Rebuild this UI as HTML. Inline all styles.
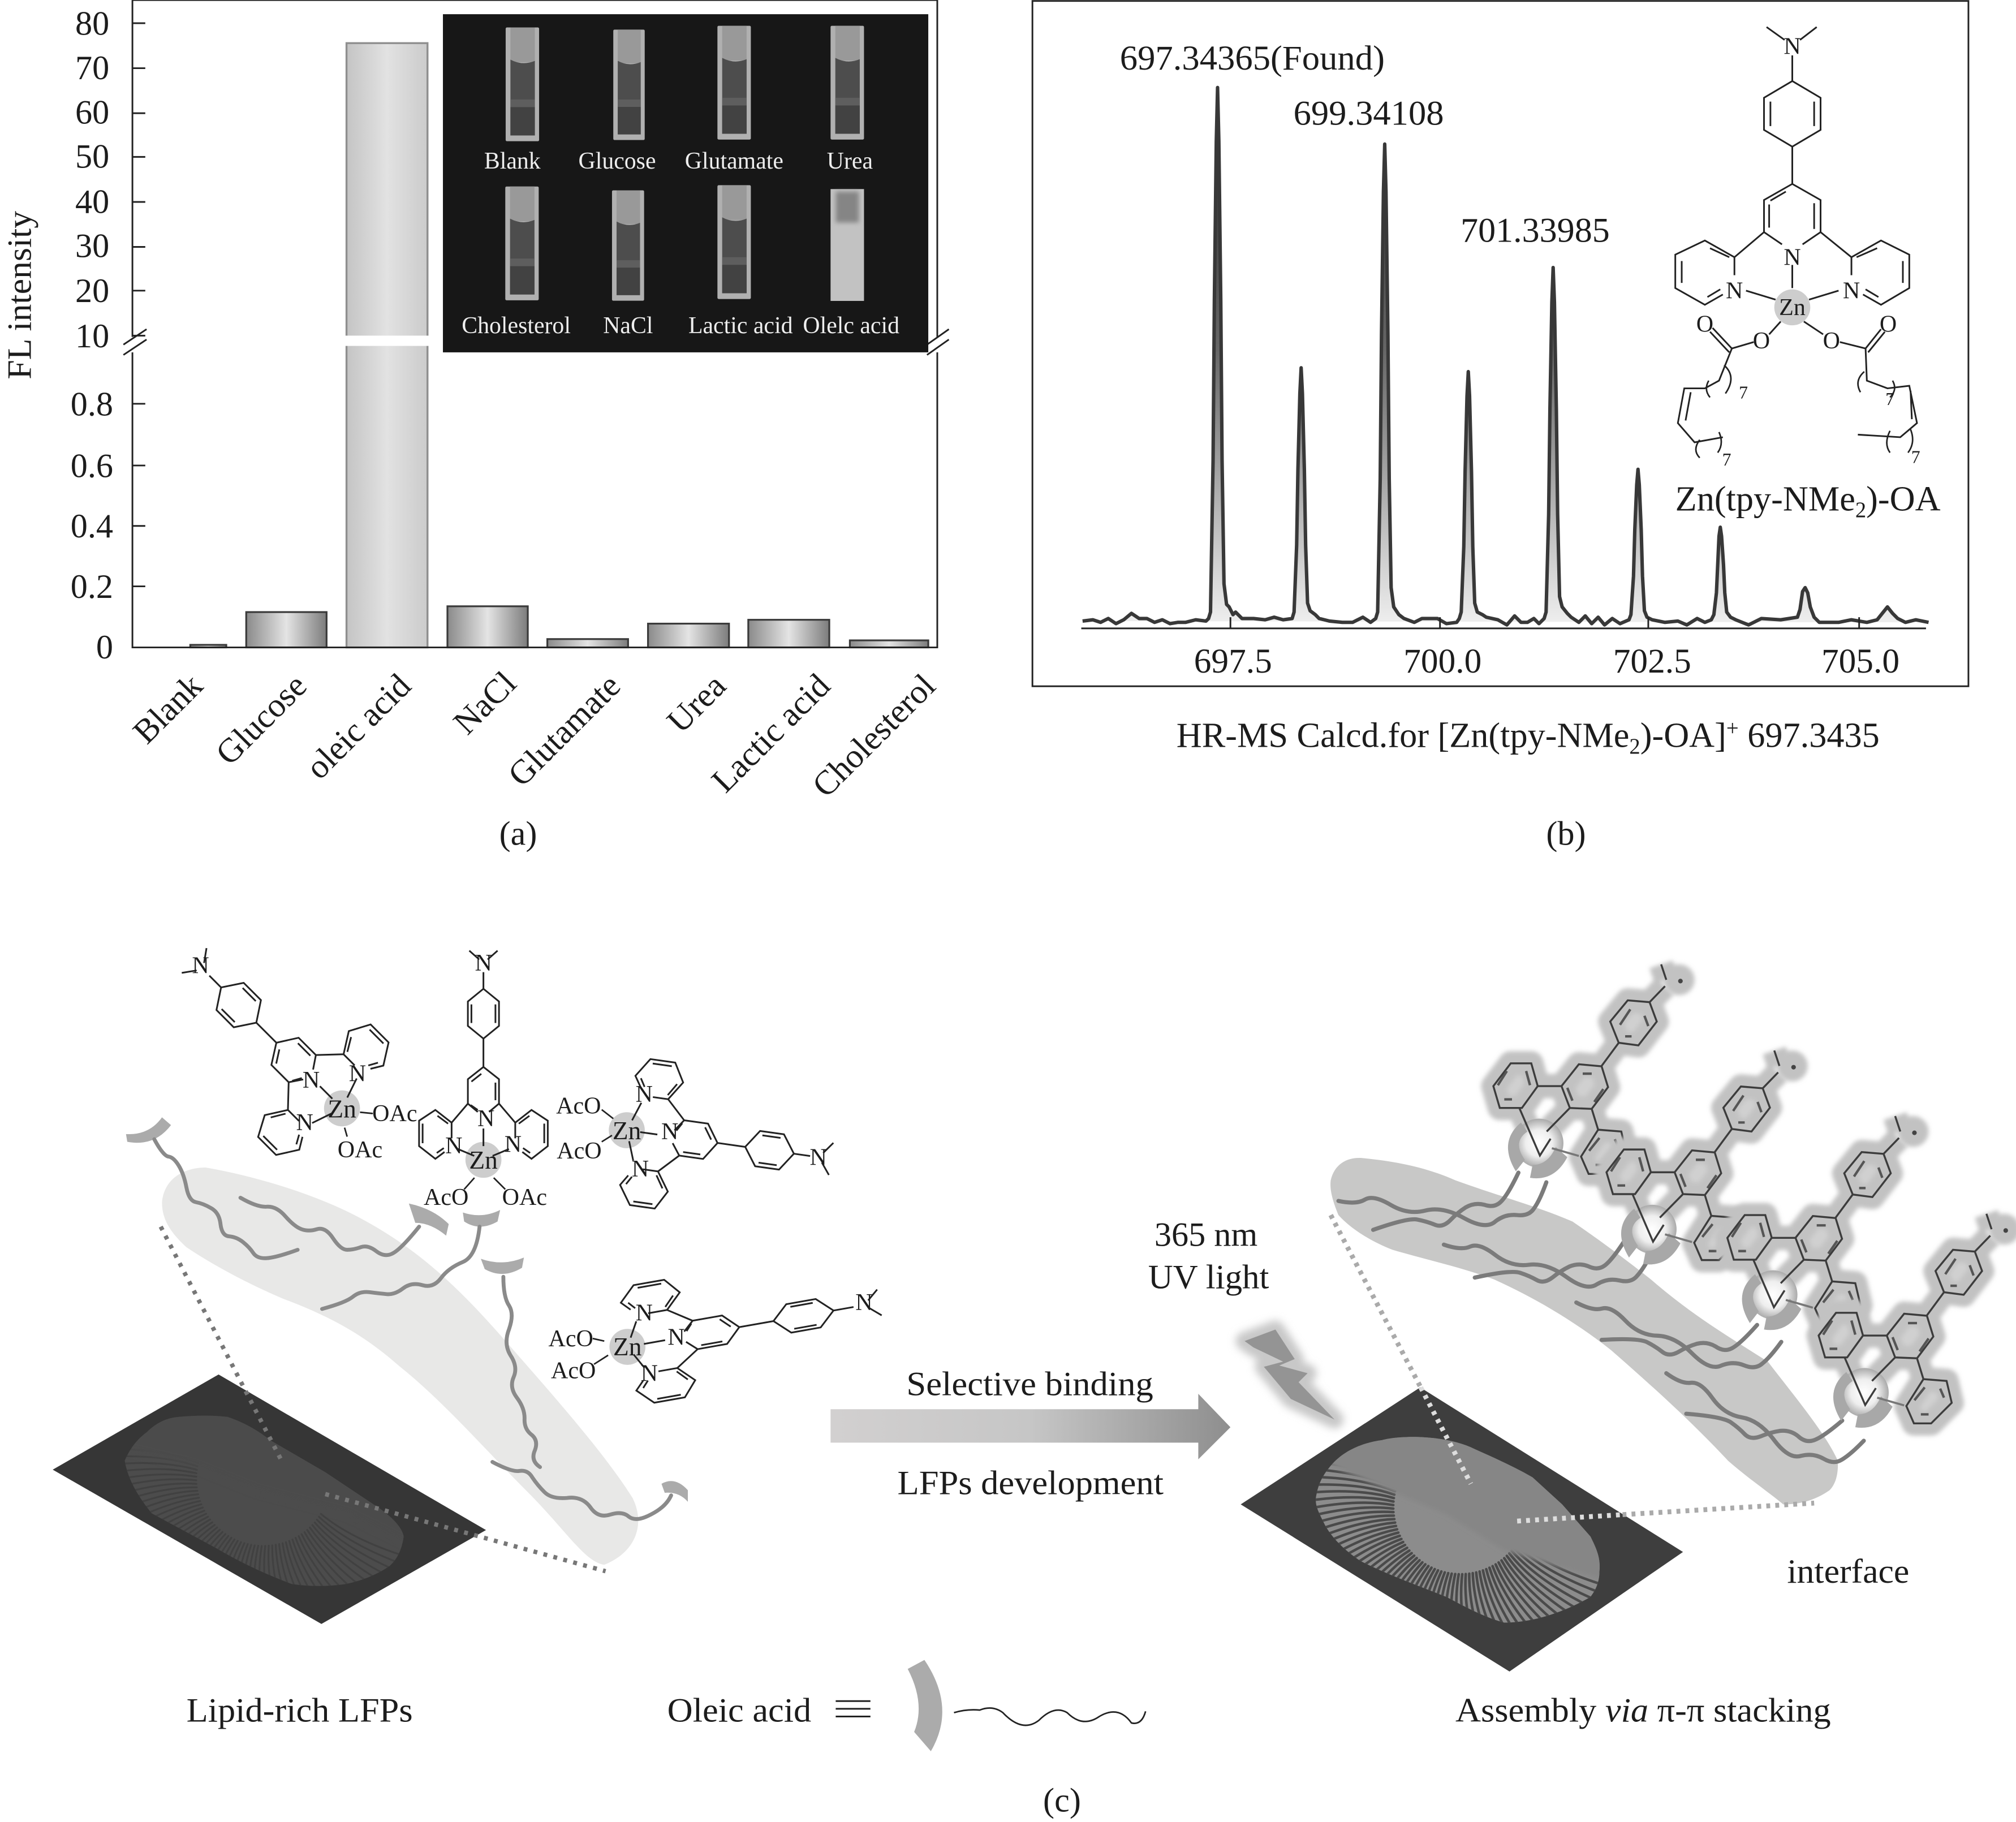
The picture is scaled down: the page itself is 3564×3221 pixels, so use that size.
<!DOCTYPE html>
<html><head><meta charset="utf-8"><title>Zn(tpy-NMe2)-OA figure</title>
<style>
html,body{margin:0;padding:0;background:#fff}
svg{display:block}
text{font-family:"Liberation Serif","DejaVu Serif",serif;fill:#1c1c1c}
.t{font-size:26.5px}
.w{font-size:18.4px;fill:#eee;text-anchor:middle}
.n{font-size:18.5px;text-anchor:middle}
.b{fill:none;stroke:#222}
.wm{fill:none;stroke:#8a8a8a;stroke-width:3;stroke-linejoin:round;stroke-linecap:round}
.wr{fill:none;stroke:#7b7b7b;stroke-width:3.2;stroke-linejoin:round;stroke-linecap:round}
</style></head><body>
<svg xmlns="http://www.w3.org/2000/svg" width="3564" height="3221" viewBox="0 0 1568 1417">
<defs>
<linearGradient id="gb" x1="0" x2="1" y1="0" y2="0"><stop offset="0" stop-color="#8a8a8a"/><stop offset=".5" stop-color="#e4e4e4"/><stop offset="1" stop-color="#7c7c7c"/></linearGradient>
<linearGradient id="go" x1="0" x2="1" y1="0" y2="0"><stop offset="0" stop-color="#c4c4c4"/><stop offset=".5" stop-color="#e2e2e2"/><stop offset="1" stop-color="#cbcbcb"/></linearGradient>
<linearGradient id="gp" gradientUnits="userSpaceOnUse" x1="0" x2="0" y1="60" y2="484"><stop offset="0" stop-color="#222"/><stop offset=".5" stop-color="#666"/><stop offset="1" stop-color="#eee"/></linearGradient>
<linearGradient id="ga" x1="0" x2="1" y1="0" y2="0"><stop offset="0" stop-color="#d2d0d0"/><stop offset=".5" stop-color="#c6c6c6"/><stop offset="1" stop-color="#8e8e8e"/></linearGradient>
<radialGradient id="gz"><stop offset="0" stop-color="#fff"/><stop offset=".55" stop-color="#eee"/><stop offset="1" stop-color="#aaa"/></radialGradient>
<filter id="bl" x="-20%" y="-20%" width="140%" height="140%"><feGaussianBlur stdDeviation="1.8"/></filter>
<filter id="bl3" x="-30%" y="-30%" width="160%" height="160%"><feGaussianBlur stdDeviation="3"/></filter>
<g id="cuv">
<rect x="0" y="0" width="26" height="88.5" rx="1" fill="#b0b0b0"/>
<rect x="3.7" y="0" width="19" height="27" fill="#999"/>
<path d="M3.7,25 Q13,30 22.7,26 V84 H3.7Z" fill="#4d4d4d"/>
<rect x="3.7" y="56" width="19" height="6" fill="#5e5e5e"/>
<rect x="3.7" y="62" width="19" height="22" fill="#424242"/>
</g>
<path id="tpy" vector-effect="non-scaling-stroke" fill="none" stroke="#222" stroke-width="3" d="M-8,-49 L-22,-57.5 L-22,-82.5 L0,-95 L22,-82.5 L22,-57.5 L8,-49 M-17,-80 L-3,-88 M17,-79 L17,-61 M-18,-56 L-8,-51 M-22,-57.5 L-45,-38 L-68,-51 L-91,-40 L-91,-14 L-68,-1 L-55,-8 M-45,-38 L-45,-22 M-50,-37 L-65,-45 M-86,-37 L-86,-17 M-66,-7 L-56,-12 M22,-57.5 L45,-38 L68,-51 L91,-40 L91,-14 L68,-1 L55,-8 M45,-38 L45,-22 M50,-37 L65,-45 M86,-37 L86,-17 M66,-7 L56,-12 M0,-124 L0,-95 M0,-124 L22,-137 L22,-162 L0,-175 L-22,-162 L-22,-137 Z M17,-140 L17,-159 M-17,-140 L-17,-159 M0,-175 L0,-192 M-6,-205 L-20,-214 M6,-205 L20,-214 M0,-32 L0,-14 M-36,-11 L-13,-4 M36,-11 L13,-4"/>
<path id="mol" d="M1266,778 L1283,779.4 L1288.6,794.5 L1274.3,813 L1259,811 L1252.4,794.5Z M1228,827.7 L1245.7,829.3 L1250.7,845.5 L1238,862.4 L1221,861.7 L1214.5,844.7Z M1175,827 L1191,827 L1196,844.7 L1183.7,861.7 L1166.5,861.7 L1161.5,844.7Z M1243,878.6 L1261,880 L1265,897 L1249,913 L1235.6,913 L1229.7,899.5Z M1259,811 L1245.7,829 M1214.5,844.7 L1196,844.7 M1238,862.4 L1243,878.6 M1283,779.4 L1295,767 M1292,750 L1296,762 M1181.7,861.7 L1197.7,898.7 L1206,885.6 M1221,861.7 L1203,880"/>
<path id="dbl" d="M1260,797 L1268,785 M1279,790 L1282,798 M1264,806 L1269,806 M1231,835 L1238,835 M1240,857 L1247,847 M1219,846 L1223,856 M1172,833 L1165,844 M1187,833 L1190,844 M1170,855 L1176,855 M1236,895 L1244,885 M1256,886 L1259,893 M1241,906 L1247,906"/>
<g id="stk">
<use href="#mol" fill="#d0d0d0" stroke="#c2c2c2" stroke-width="19" stroke-linejoin="round" filter="url(#bl)"/>
<circle cx="1306" cy="762" r="12" fill="#c2c2c2" filter="url(#bl)"/>
<circle cx="1197" cy="889" r="19" fill="url(#gz)"/>
<path d="M1183,873 Q1165,888 1179,911 L1186,902 Q1176,888 1188,880Z M1190,916 Q1209,919 1219,900 L1210,892 Q1204,906 1192,906Z" fill="#a8a8a8"/>
<use href="#mol" fill="none" stroke="#3c3c3c" stroke-width="1.5"/>
<use href="#dbl" fill="none" stroke="#555" stroke-width="1.9"/>
<circle cx="1307" cy="763" r="1.8" fill="#444"/>
<path d="M1207,893 L1228,899" stroke="#777" stroke-width="1.6"/>
</g>
<path id="ch" class="wr" d="M1041,934 Q1055,937 1061.5,933 Q1068,929 1081.5,937 Q1095,945 1108.5,941.5 Q1122,938 1139,947.5 Q1155.6,956.6 1163,950 Q1170.7,944 1180,945 Q1189,946 1193,940 Q1197.7,933.4 1202.7,919.5 M1068,956.5 Q1095,947 1102.5,948.5 Q1110,950 1116,952.5 Q1122,955 1128,949 Q1133.7,943 1140,939 Q1147,935 1154.5,937 Q1162,939.6 1167,935 Q1172.4,930 1181,912"/>
<path id="rd" fill="none" d="M1188,1178 Q1226,1188 1286,1176"/>
<g id="ridges" fill="none" stroke-linecap="round">
<use href="#rd" transform="rotate(25 1136 1172)"/><use href="#rd" transform="rotate(28 1136 1172)"/><use href="#rd" transform="rotate(31 1136 1172)"/><use href="#rd" transform="rotate(34 1136 1172)"/><use href="#rd" transform="rotate(37 1136 1172)"/><use href="#rd" transform="rotate(40 1136 1172)"/><use href="#rd" transform="rotate(43 1136 1172)"/><use href="#rd" transform="rotate(46 1136 1172)"/><use href="#rd" transform="rotate(49 1136 1172)"/><use href="#rd" transform="rotate(52 1136 1172)"/><use href="#rd" transform="rotate(55 1136 1172)"/><use href="#rd" transform="rotate(58 1136 1172)"/><use href="#rd" transform="rotate(61 1136 1172)"/><use href="#rd" transform="rotate(64 1136 1172)"/><use href="#rd" transform="rotate(67 1136 1172)"/><use href="#rd" transform="rotate(70 1136 1172)"/><use href="#rd" transform="rotate(73 1136 1172)"/><use href="#rd" transform="rotate(76 1136 1172)"/><use href="#rd" transform="rotate(79 1136 1172)"/><use href="#rd" transform="rotate(82 1136 1172)"/><use href="#rd" transform="rotate(85 1136 1172)"/><use href="#rd" transform="rotate(88 1136 1172)"/><use href="#rd" transform="rotate(91 1136 1172)"/><use href="#rd" transform="rotate(94 1136 1172)"/><use href="#rd" transform="rotate(97 1136 1172)"/><use href="#rd" transform="rotate(100 1136 1172)"/><use href="#rd" transform="rotate(103 1136 1172)"/><use href="#rd" transform="rotate(106 1136 1172)"/><use href="#rd" transform="rotate(109 1136 1172)"/><use href="#rd" transform="rotate(112 1136 1172)"/><use href="#rd" transform="rotate(115 1136 1172)"/><use href="#rd" transform="rotate(118 1136 1172)"/><use href="#rd" transform="rotate(121 1136 1172)"/><use href="#rd" transform="rotate(124 1136 1172)"/><use href="#rd" transform="rotate(127 1136 1172)"/><use href="#rd" transform="rotate(130 1136 1172)"/><use href="#rd" transform="rotate(133 1136 1172)"/><use href="#rd" transform="rotate(136 1136 1172)"/><use href="#rd" transform="rotate(139 1136 1172)"/><use href="#rd" transform="rotate(142 1136 1172)"/><use href="#rd" transform="rotate(145 1136 1172)"/><use href="#rd" transform="rotate(148 1136 1172)"/><use href="#rd" transform="rotate(151 1136 1172)"/><use href="#rd" transform="rotate(154 1136 1172)"/><use href="#rd" transform="rotate(157 1136 1172)"/><use href="#rd" transform="rotate(160 1136 1172)"/><use href="#rd" transform="rotate(163 1136 1172)"/><use href="#rd" transform="rotate(166 1136 1172)"/><use href="#rd" transform="rotate(169 1136 1172)"/><use href="#rd" transform="rotate(172 1136 1172)"/><use href="#rd" transform="rotate(175 1136 1172)"/><use href="#rd" transform="rotate(178 1136 1172)"/><use href="#rd" transform="rotate(181 1136 1172)"/><use href="#rd" transform="rotate(184 1136 1172)"/><use href="#rd" transform="rotate(187 1136 1172)"/><use href="#rd" transform="rotate(190 1136 1172)"/><use href="#rd" transform="rotate(193 1136 1172)"/><use href="#rd" transform="rotate(196 1136 1172)"/><use href="#rd" transform="rotate(199 1136 1172)"/><use href="#rd" transform="rotate(202 1136 1172)"/><use href="#rd" transform="rotate(205 1136 1172)"/><use href="#rd" transform="rotate(208 1136 1172)"/><use href="#rd" transform="rotate(211 1136 1172)"/><use href="#rd" transform="rotate(214 1136 1172)"/><use href="#rd" transform="rotate(217 1136 1172)"/><use href="#rd" transform="rotate(220 1136 1172)"/><use href="#rd" transform="rotate(223 1136 1172)"/>
</g>
<clipPath id="fpr"><path d="M1035,1140 C1045,1128 1060,1122 1075,1120 C1090,1116 1125,1116 1147,1127 C1165,1135 1180,1142 1192,1149 L1215,1170 L1237,1195 C1242,1205 1245,1212 1244,1222 C1244,1232 1240,1238 1237,1242 C1220,1252 1195,1262 1170,1262 C1155,1258 1140,1250 1125,1242 C1100,1232 1080,1225 1058,1214 C1045,1205 1037,1197 1031,1187 C1025,1175 1022,1170 1024,1162 C1026,1152 1030,1146 1035,1140Z"/></clipPath>
<clipPath id="fpl"><path d="M97,1136 Q103,1122 114,1114 Q125,1103 139,1102 Q160,1100 177,1102 Q195,1108 210,1120 L253,1145 L295,1173 Q312,1185 314,1195 Q312,1210 303,1218 Q288,1228 269,1232 Q248,1235 227,1232 Q195,1220 168,1204 L118,1177 Q100,1155 97,1136Z"/></clipPath>
</defs>
<rect width="1568" height="1417" fill="#fff"/>

<!-- PANEL A -->
<g fill="url(#gb)" stroke="#3a3a3a" stroke-width="1.4">
<rect x="148" y="501.5" width="28" height="2"/>
<rect x="191.5" y="476" width="62.5" height="27.5"/>
<rect x="348" y="471.5" width="62.5" height="32"/>
<rect x="425.7" y="497" width="62.8" height="6.5"/>
<rect x="504" y="485" width="63" height="18.5"/>
<rect x="582" y="482" width="63" height="21.5"/>
<rect x="661" y="498" width="61" height="5.5"/>
</g>
<rect x="269.5" y="33.5" width="63" height="470" fill="url(#go)" stroke="#8f8f8f" stroke-width="1.5"/>
<rect x="266" y="261" width="70" height="8" fill="#fff"/>
<path class="b" stroke-width="1.3" d="M103,0 H729 V262 M729,274 V503.5 H103 V274 M103,262 V0"/>
<path class="b" stroke-width="1.3" d="M103,18 h10 M103,53 h10 M103,88 h10 M103,122 h10 M103,157 h10 M103,192 h10 M103,226 h10 M103,261 h10 M103,314 h10 M103,362 h10 M103,409 h10 M103,456 h10 M96,268 L114,256 M96,276 L114,264 M721,268 L738,256 M721,276 L738,264"/>
<g class="t" text-anchor="end">
<text x="85" y="27">80</text><text x="85" y="61.5">70</text><text x="85" y="96">60</text><text x="85" y="130.5">50</text><text x="85" y="165.5">40</text><text x="85" y="200">30</text><text x="85" y="235">20</text><text x="85" y="270">10</text>
<text x="88" y="323">0.8</text><text x="88" y="371">0.6</text><text x="88" y="418">0.4</text><text x="88" y="465">0.2</text><text x="88" y="512">0</text>
</g>
<text class="t" transform="translate(24,295) rotate(-90)" textLength="131" lengthAdjust="spacingAndGlyphs">FL intensity</text>
<g class="t" text-anchor="end">
<text transform="translate(159,535) rotate(-45)">Blank</text>
<text transform="translate(240,535) rotate(-45)">Glucose</text>
<text transform="translate(321,535) rotate(-45)">oleic acid</text>
<text transform="translate(403,533) rotate(-45)">NaCl</text>
<text transform="translate(484,535) rotate(-45)">Glutamate</text>
<text transform="translate(566,535) rotate(-45)">Urea</text>
<text transform="translate(647,535) rotate(-45)">Lactic acid</text>
<text transform="translate(729,535) rotate(-45)">Cholesterol</text>
</g>
<text class="t" x="403" y="657" text-anchor="middle">(a)</text>

<rect x="344.5" y="11" width="377.5" height="263" fill="#171717"/>
<use href="#cuv" transform="translate(393.3,21.3)"/>
<use href="#cuv" transform="translate(477,23) scale(.94,.97)"/>
<use href="#cuv" transform="translate(558,20)"/>
<use href="#cuv" transform="translate(646,20)"/>
<use href="#cuv" transform="translate(393,145)"/>
<use href="#cuv" transform="translate(476,148) scale(.96,.97)"/>
<use href="#cuv" transform="translate(558,144)"/>
<rect x="646" y="147" width="26" height="87" fill="#c2c2c2"/>
<rect x="650" y="149" width="18" height="24" fill="#858585" filter="url(#bl)"/>
<text class="w" x="398.5" y="131">Blank</text><text class="w" x="480" y="131">Glucose</text><text class="w" x="571" y="131">Glutamate</text><text class="w" x="661" y="131">Urea</text>
<text class="w" x="401.5" y="259">Cholesterol</text><text class="w" x="488.5" y="259">NaCl</text><text class="w" x="576" y="259">Lactic acid</text><text class="w" x="662" y="259">Olelc acid</text>

<!-- PANEL B -->
<rect x="803" y="0.7" width="728" height="533" fill="#fff" stroke="#222" stroke-width="1.3"/>
<path fill="url(#gp)" stroke="#383838" stroke-width="2.7" stroke-linejoin="round" d="M842,483 L850,482 L856,484 L862,481 L868,485 L874,482 L880,477 L886,481 L892,481 L898,484 L904,482 L910,485 L916,484 L922,484 L930,482 L938,483 L940,481 L941.5,476 L943.5,358 L944.5,234 L946,110 L947,68 L948,110 L949.5,234 L950.5,358 L952,454 L954,470 L956,472 L959,478 L961,476 L966,481 L975,481 L984,482 L991,480 L998,482 L1005,481 L1006.5,476 L1008.5,424 L1009.5,365 L1011,306 L1012,286 L1013,306 L1014.5,365 L1015.5,424 L1017,469 L1019,475 L1023,478 L1026,481 L1034,483 L1044,484 L1052,484 L1060,480 L1066,484 L1070,481 L1071.5,476 L1073.5,372 L1074.5,260 L1076,149 L1077,112 L1078,149 L1079.5,260 L1080.5,372 L1082,457 L1084,472 L1088,478 L1092,481 L1100,484 L1106,481 L1118,481 L1125,485 L1133,484 L1135,481 L1136.5,476 L1138.5,425 L1139.5,367 L1141,308 L1142,289 L1143,308 L1144.5,367 L1145.5,425 L1147,469 L1149,476 L1153,478 L1156,480 L1165,482 L1172,486 L1178,479 L1183,484 L1188,484 L1193,481 L1197,485 L1201,481 L1202.5,476 L1204.5,400 L1205.5,318 L1207,235 L1208,208 L1209,235 L1210.5,318 L1211.5,400 L1213,464 L1215,472 L1219,477 L1222,480 L1228,484 L1233,479 L1238,485 L1243,480 L1248,486 L1254,481 L1260,485 L1267,482 L1268.5,478 L1270.5,448 L1271.5,412 L1273,377 L1274,365 L1275,377 L1276.5,412 L1277.5,448 L1279,475 L1281,480 L1285,482 L1295,484 L1305,483 L1312,486 L1320,481 L1326,484 L1331,482 L1333,478 L1335,461 L1336,439 L1337,417 L1338,410 L1339,417 L1340.5,439 L1341.5,461 L1343,476 L1346,480 L1350,482 L1360,486 L1370,481 L1385,482 L1398,480 L1400,474 L1402,460 L1404,457 L1406,461 L1408,472 L1411,480 L1415,484 L1430,484 L1440,482 L1452,484 L1460,482 L1464,477 L1468,472 L1472,477 L1476,481 L1482,484 L1490,482 L1500,484"/>
<path class="b" stroke-width="1.3" d="M841,488.7 H1498 M957,480 V488 M1120,480 V488 M1282,480 V488 M1446,480 V488"/>
<g class="t" text-anchor="middle" style="font-size:27px">
<text x="959" y="523">697.5</text><text x="1122" y="523">700.0</text><text x="1285" y="523">702.5</text><text x="1447" y="523">705.0</text>
</g>
<text class="t" style="font-size:27px" x="871" y="54" textLength="206" lengthAdjust="spacingAndGlyphs">697.34365(Found)</text>
<text class="t" style="font-size:27px" x="1006" y="97" textLength="117" lengthAdjust="spacingAndGlyphs">699.34108</text>
<text class="t" style="font-size:27px" x="1136" y="188" textLength="116" lengthAdjust="spacingAndGlyphs">701.33985</text>
<path class="b" stroke-width="1.3" d="M1374,21 L1388,31 M1413,21 L1400,31 M1394,43 L1394,63 L1416,76 L1416,101 L1394,114 L1372,101 L1372,76 L1394,63 M1411,79 L1411,98 M1377,79 L1377,98 M1394,114 L1394,143 L1416,155.5 L1416,180.5 L1402,190 M1386,190 L1372,180.5 L1372,155.5 L1394,143 M1376,159 L1376,177 M1389,149 L1377,156 M1411,158 L1411,178 M1372,180.5 L1349,200 L1326,187 L1303,198 L1303,224 L1326,237 L1340,229 M1349,200 L1349,214 M1345,200 L1330,193 M1308,203 L1308,220 M1328,231 L1338,225 M1416,180.5 L1440,200 L1463,187 L1485,198 L1485,224 L1463,237 L1449,229 M1440,200 L1440,214 M1444,200 L1460,193 M1480,203 L1480,220 M1461,231 L1451,225 M1394,206 L1394,224 M1358,226 L1381,233 M1430,226 L1407,233 M1385,250 L1376,260 M1403,250 L1418,260 M1364,266 L1347,271 L1332,255 M1345,274 L1330,258 M1431,266 L1451,271 L1463,256 M1453,274 L1466,258 M1347,271 L1337,296 L1326,302 L1310,302 L1305,329 L1318,344 L1340,340 M1315,305 L1311,327 M1451,271 L1452,296 L1468,302 L1485,300 L1491,329 L1478,340 L1445,338 M1486,304 L1487,326"/>
<path class="b" stroke-width="1.2" d="M1341,284 Q1351,293 1342,306 M1329,296 Q1325,303 1330,309 M1322,342 Q1316,350 1322,356 M1337,336 Q1341,345 1336,352 M1450,289 Q1442,296 1447,305 M1472,296 Q1476,303 1470,309 M1470,335 Q1465,345 1470,352 M1486,334 Q1490,344 1484,352"/>
<circle cx="1394" cy="239" r="14" fill="#cdcdcd"/>
<text class="n" x="1394" y="206">N</text><text class="n" x="1349" y="232">N</text><text class="n" x="1440" y="232">N</text><text class="n" x="1394" y="42">N</text><text class="n" x="1394" y="245" style="font-size:18.5px">Zn</text><text class="n" x="1370" y="271">O</text><text class="n" x="1424.5" y="271">O</text><text class="n" x="1326" y="258">O</text><text class="n" x="1468.6" y="258">O</text><text class="n" x="1356" y="310" style="font-size:14px">7</text><text class="n" x="1343" y="362" style="font-size:14px">7</text><text class="n" x="1470" y="315" style="font-size:14px">7</text><text class="n" x="1490" y="360" style="font-size:14px">7</text>
<text class="t" x="1303" y="397" style="font-size:27.4px">Zn(tpy-NMe<tspan dy="5" style="font-size:17px">2</tspan><tspan dy="-5">)-OA</tspan></text>
<text class="t" x="915" y="581" style="font-size:27.4px">HR-MS Calcd.for [Zn(tpy-NMe<tspan dy="5" style="font-size:17px">2</tspan><tspan dy="-5">)-OA]</tspan><tspan dy="-9" style="font-size:17px">+</tspan><tspan dy="9"> 697.3435</tspan></text>
<text class="t" x="1218" y="657" text-anchor="middle">(b)</text>

<!-- PANEL C LEFT -->
<path fill="#e8e8e7" d="M126,935 C128,915 145,908 160,908 C200,915 250,930 285,950 C330,975 360,1005 395,1045 C430,1085 470,1130 492,1165 C502,1185 495,1207 470,1217 C455,1215 440,1190 410,1160 C375,1125 345,1090 310,1062 C285,1040 260,1025 220,1010 C185,995 160,980 145,970 C132,958 126,948 126,935Z"/>
<path fill="#363636" d="M170,1069 L378,1190 L250,1263 L41,1143Z"/>
<g clip-path="url(#fpl)">
<rect x="90" y="1095" width="230" height="145" fill="#4c4c4c"/>
<use href="#ridges" stroke="#414141" stroke-width="1.4" transform="translate(-931,-22)"/>
<path d="M85,1090 H325 V1205 L270,1178 L200,1160 L150,1140 L85,1125Z" fill="#4c4c4c" filter="url(#bl3)"/>
</g>
<g fill="none" stroke="#777" stroke-width="3.4" stroke-dasharray="3 5">
<path d="M125,954 L219,1136"/><path d="M253,1162 L471,1222"/>
</g>
<g fill="#ababab">
<path d="M98,882 Q116,883 126,869 L133,875 Q120,892 99,888Z"/>
<path d="M318,936 Q337,940 349,952 L347,961 Q335,951 323,951Z"/>
<path d="M360,943 Q375,948 389,941 L387,950 Q373,958 361,950Z"/>
<path d="M374,979 Q391,985 407.5,978 L406,986 Q391,995 377,987Z"/>
<path d="M514.5,1154 Q525,1148 535,1159 L535,1168 Q528,1160 517,1161Z"/>
</g>
<path class="wm" d="M120,886 Q127,899 131,899.5 Q135,900 139,906.5 Q143,913 145,923.5 Q147,934 152.5,935 Q158,936 164,939.5 Q170.5,943 171.5,952 Q172.6,961 178,961.5 Q184,962 189,966 Q194,970 197,974.5 Q200,979 207.5,978.5 Q215,978 231.5,972"/>
<path class="wm" d="M187,931.5 Q200,939 207.5,938.5 Q215,938 222,946 Q229,954 234.5,956 Q240,958 246.5,956 Q253,954 259,963 Q265,972 270,972 Q275,972 280.5,970 Q286,968 292.5,973 Q299,978 305,975 Q311.5,972 326,954"/>
<path class="wm" d="M250.5,1018 Q269,1013 274.5,1008.5 Q280,1004 287.5,1005 Q295,1006 301,1006.5 Q307,1007 313.5,1002 Q320,997 328.5,999.5 Q337,1002 343,994 Q349,986 360,981.5 Q370.5,977 373,954"/>
<path class="wm" d="M391.5,993 Q391.5,1009 396,1015.5 Q400,1022 396,1033.5 Q391.5,1045 397,1054 Q403,1063 399.5,1071 Q396,1079 402,1087 Q408,1095 408,1103 Q407.5,1111 413,1115.5 Q419,1120 416,1128 Q412.5,1136 420,1141"/>
<path class="wm" d="M383,1137 Q398,1145 404,1144 Q410.5,1143 414,1149 Q418,1155 423.5,1160.5 Q429,1166 441,1165 Q452.6,1163.5 459,1172 Q465,1181 474.5,1178 Q484,1175 489,1179.5 Q494.7,1184 506,1178 Q518,1172 522,1163"/>

<circle cx="266" cy="862" r="14" fill="#cdcdcd"/>
<circle cx="376" cy="902" r="14" fill="#cdcdcd"/>
<circle cx="487.5" cy="879" r="14" fill="#cdcdcd"/>
<circle cx="488" cy="1047.5" r="14" fill="#cdcdcd"/>
<use href="#tpy" transform="translate(266,862) rotate(-45) scale(.68,.76)"/>
<use href="#tpy" transform="translate(376,902) scale(.55,.76)"/>
<use href="#tpy" transform="translate(487.5,879) rotate(98) scale(.63,.75)"/>
<use href="#tpy" transform="translate(488,1047.5) rotate(80) scale(.51,.93)"/>
<path class="b" stroke-width="1.2" d="M280,865 L290,866 M268,877 L270,884 M369,916 L361,925 M384,916 L393,925 M468,863 L477,870 M468,888 L476,883 M470,1043 L461,1041 M473,1054 L462,1061"/>
<text class="n" x="156" y="757">N</text><text class="n" x="242" y="846">N</text><text class="n" x="278" y="841">N</text><text class="n" x="237" y="879">N</text>
<text class="n" x="266" y="869" style="font-size:20px">Zn</text><text class="n" x="307" y="872">OAc</text><text class="n" x="280" y="900">OAc</text>
<text class="n" x="376" y="755">N</text><text class="n" x="378" y="876">N</text><text class="n" x="353" y="897">N</text><text class="n" x="399" y="896">N</text>
<text class="n" x="376" y="909" style="font-size:20px">Zn</text><text class="n" x="347" y="937">AcO</text><text class="n" x="408" y="937">OAc</text>
<text class="n" x="450" y="866">AcO</text><text class="n" x="450.5" y="901">AcO</text><text class="n" x="487.5" y="886" style="font-size:20px">Zn</text>
<text class="n" x="501" y="857">N</text><text class="n" x="521" y="886">N</text><text class="n" x="498" y="915">N</text><text class="n" x="636.5" y="906">N</text>
<text class="n" x="444" y="1047">AcO</text><text class="n" x="446" y="1072">AcO</text><text class="n" x="488" y="1054" style="font-size:20px">Zn</text>
<text class="n" x="501" y="1027">N</text><text class="n" x="526" y="1046">N</text><text class="n" x="505" y="1074">N</text><text class="n" x="672" y="1019">N</text>
<text class="t" x="145" y="1339" textLength="176" lengthAdjust="spacingAndGlyphs">Lipid-rich LFPs</text>
<text class="t" x="519" y="1339" textLength="112" lengthAdjust="spacingAndGlyphs">Oleic acid</text>
<path stroke="#222" stroke-width="1.3" d="M650,1323 H677 M650,1329 H677 M650,1335 H677"/>
<path fill="#ababab" d="M706,1298 L719,1291 Q744,1328 724,1362 L711,1347 Q720,1325 706,1298Z"/>
<path fill="none" stroke="#222" stroke-width="1.2" d="M742,1332 Q752,1329 762,1330 Q772,1326 780,1332 Q795,1348 808,1338 Q820,1326 830,1332 Q842,1344 855,1335 Q870,1326 880,1340 Q888,1342 891,1331"/>

<!-- ARROW + TEXT -->
<path fill="url(#ga)" d="M646,1096 H932 V1084 L957,1110 L932,1135 V1122 H646Z"/>
<text class="t" x="705" y="1085" textLength="192" lengthAdjust="spacingAndGlyphs">Selective binding</text>
<text class="t" x="698" y="1162" textLength="207" lengthAdjust="spacingAndGlyphs">LFPs development</text>
<text class="t" x="938" y="969" text-anchor="middle">365 nm</text>
<text class="t" x="893" y="1002" textLength="94" lengthAdjust="spacingAndGlyphs">UV light</text>
<path fill="#c8c8c8" filter="url(#bl3)" stroke="#c8c8c8" stroke-width="14" stroke-linejoin="round" d="M968,1043 L992,1034 L1007,1057 L995,1062 L1017,1068 L1010,1075 L1038,1104 L1004,1088 L983,1063 L998,1059 L975,1048Z"/>
<path fill="#949494" d="M968,1043 L992,1034 L1007,1057 L995,1062 L1017,1068 L1010,1075 L1038,1104 L1004,1088 L983,1063 L998,1059 L975,1048Z"/>

<!-- PANEL C RIGHT -->
<path fill="#c8c8c7" d="M1035,918 C1038,905 1048,900 1059,900.6 C1085,903 1110,908 1132,918 C1165,930 1195,938 1223,950 C1245,965 1265,980 1284,995 C1315,1022 1345,1040 1375,1059 C1395,1085 1420,1115 1429.4,1136 C1430,1148 1427,1155 1423,1159 C1410,1168 1398,1170 1387,1170 C1375,1160 1360,1150 1344,1136 C1315,1105 1285,1078 1253,1050 C1225,1028 1195,1010 1162,995 C1135,985 1110,980 1083,972 C1065,965 1050,955 1041,945 C1037,935 1034,926 1035,918Z"/>
<path fill="#3e3e3e" d="M1104.6,1079 L1309,1207 L1174,1300 L965,1170Z"/>
<g clip-path="url(#fpr)">
<rect x="1015" y="1105" width="240" height="165" fill="#8c8c8c"/>
<use href="#ridges" stroke="#4a4a4a" stroke-width="2"/>
<path d="M1005,1100 H1260 V1240 L1244,1228 L1170,1206 L1125,1178 L1035,1140 L1005,1130Z" fill="#868686" filter="url(#bl)"/>
</g>
<g fill="none" stroke-width="3.8" stroke-dasharray="3 4">
<path stroke="#aaa" d="M1035,945 L1105,1079"/><path stroke="#ddd" d="M1105,1079 L1144,1154"/>
<path stroke="#ddd" d="M1180,1183 L1262,1178"/><path stroke="#aaa" d="M1262,1178 L1411,1169"/>
</g>
<use href="#ch"/>
<use href="#ch" transform="translate(1123,968) rotate(7) translate(-1041,-934)"/>
<use href="#ch" transform="translate(1226,1013) rotate(16) translate(-1041,-934)"/>
<use href="#ch" transform="translate(1296,1068) rotate(24) translate(-1041,-934)"/>
<use href="#stk"/>
<use href="#stk" transform="translate(88,67)"/>
<use href="#stk" transform="translate(182,118)"/>
<use href="#stk" transform="translate(253,194)"/>
<text class="t" x="1390" y="1231" textLength="95" lengthAdjust="spacingAndGlyphs">interface</text>
<text class="t" x="1132" y="1339" textLength="292" lengthAdjust="spacingAndGlyphs">Assembly <tspan font-style="italic">via</tspan> π-π stacking</text>
<text class="t" x="826" y="1409" text-anchor="middle">(c)</text>
</svg>
</body></html>
